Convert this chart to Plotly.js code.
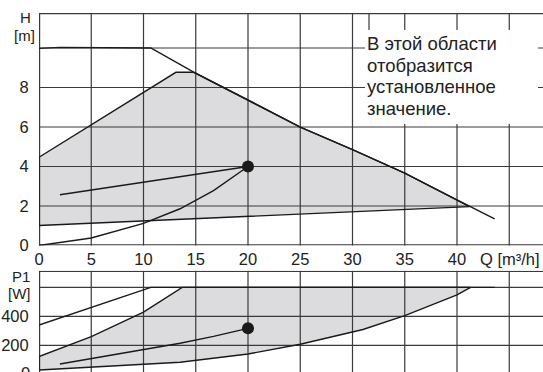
<!DOCTYPE html>
<html>
<head>
<meta charset="utf-8">
<script src="https://cdn.plot.ly/plotly-3.0.1.min.js"></script>
<style>
  body { margin: 0; background: #fff; }
  #chart { width: 543px; height: 372px; }
</style>
</head>
<body>
<div id="chart"></div>
<script>
// head chart, Q [m3/h] vs H [m]
const maxQ = [0, 2, 10.7, 14.8, 20, 25, 30, 35, 40, 43.6];
const maxH = [9.98, 10.03, 10.0, 8.78, 7.37, 5.99, 4.85, 3.66, 2.31, 1.35];

const areaQ = [0, 13.1, 14.8, 20, 25, 30, 35, 41.2, 0, 0];
const areaH = [4.47, 8.77, 8.77, 7.37, 5.99, 4.85, 3.66, 1.97, 1.01, 4.47];

const setQ = [2, 20];
const setH = [2.57, 4];

const sysQ = [0, 5, 10, 13.5, 16.7, 20];
const sysH = [0, 0.38, 1.12, 1.86, 2.78, 4];

const dutyQ = [20];
const dutyH = [4];

// power chart, Q [m3/h] vs P1 [W]
const pmaxQ = [0, 10.7, 43.6];
const pmaxP = [341, 600, 600];

const pareaQ = [0, 5, 10, 13.7, 41.3, 40, 35, 31, 25, 20, 13.5, 10, 0, 0];
const pareaP = [123, 261, 429, 600, 600, 548, 405, 310, 208, 141, 84, 71, 31, 123];

const psetQ = [2, 10, 13.5, 16.7, 20];
const psetP = [72, 172, 215, 262, 318];

const dutyP = [318];

const qTicks = [0, 5, 10, 15, 20, 25, 30, 35, 40, 45];
const qLabels = ['0', '5', '10', '15', '20', '25', '30', '35', '40', ''];
const hTicks = [0, 2, 4, 6, 8];
const hGrid = [0, 2, 4, 6, 8, 10];
const pTicks = [200, 400, 600];
const pLabels = ['200', '400', ''];

const noteLines = ['В этой области', 'отобразится', 'установленное', 'значение.'];

const W = 543, H = 372, ML = 39, MT = 13;
const px = x => (x - ML) / (W - ML);
const py = y => (H - y) / (H - MT);

// pixel scales used for the axis ranges
const qPx = 10.45, hPx = 19.75, pPx = 0.145;
const qMax = (W - ML) / qPx;
const hTop = 232.5 / hPx;
const pRange = [17, 715];

function toPath(xs, ys) {
  return xs.map((x, i) => (i ? 'L' : 'M') + x + ',' + ys[i]).join(' ') + ' Z';
}

const ink = '#1a1a1a';
const gridCol = '#3a3a3a';
const fillGray = '#dcdcde';
const fam = 'Liberation Sans, Arial, sans-serif';
const tickFont = { family: fam, size: 16.5, color: '#222' };
const labFont = { family: fam, size: 15, color: '#222' };

const line = (x, y, xa, ya) => ({
  x: x, y: y, xaxis: xa, yaxis: ya, mode: 'lines', type: 'scatter',
  line: { color: ink, width: 1.4 }, hoverinfo: 'skip', showlegend: false
});

// one small trace per grid line or tick, on the axes
const seg = (x0, y0, x1, y1, xa, ya, out) => ({
  x: [x0, x1], y: [y0, y1], xaxis: xa, yaxis: ya, mode: 'lines', type: 'scatter',
  line: { color: gridCol, width: 1.2 }, cliponaxis: !out,
  hoverinfo: 'skip', showlegend: false
});

const eQ = 0.6 / qPx, eH = 0.6 / hPx, eP = 0.6 / pPx;
const tickQ = -6 / qPx, tickH = -5 / hPx;

const grid = [];
qTicks.forEach(q => {
  const qq = q === 0 ? eQ : q;
  grid.push(seg(qq, 0, qq, hTop, 'x', 'y'));
  grid.push(seg(q, 0, q, tickH, 'x', 'y', true));
  grid.push(seg(qq, pRange[0], qq, pRange[1], 'x2', 'y2'));
});
hGrid.forEach(h => {
  const hh = h === 0 ? eH : h;
  grid.push(seg(0, hh, qMax, hh, 'x', 'y'));
});
hTicks.forEach(h => grid.push(seg(tickQ, h, 0, h, 'x', 'y', true)));
grid.push(seg(0, hTop - eH, qMax, hTop - eH, 'x', 'y'));
grid.push(seg(31.58, (245.5 - 30) / hPx, 31.58, hTop, 'x', 'y'));
pTicks.forEach(p => {
  grid.push(seg(0, p, qMax, p, 'x2', 'y2'));
  grid.push(seg(tickQ, p, 0, p, 'x2', 'y2', true));
});
grid.push(seg(0, pRange[1] - eP, qMax, pRange[1] - eP, 'x2', 'y2'));

const data = grid.concat([
  line(areaQ, areaH, 'x', 'y'),
  line(maxQ, maxH, 'x', 'y'),
  line(setQ, setH, 'x', 'y'),
  line(sysQ, sysH, 'x', 'y'),
  { x: dutyQ, y: dutyH, xaxis: 'x', yaxis: 'y', mode: 'markers', type: 'scatter',
    marker: { size: 12, color: ink }, hoverinfo: 'skip', showlegend: false },
  line(pareaQ, pareaP, 'x2', 'y2'),
  line(pmaxQ, pmaxP, 'x2', 'y2'),
  line(psetQ, psetP, 'x2', 'y2'),
  { x: dutyQ, y: dutyP, xaxis: 'x2', yaxis: 'y2', mode: 'markers', type: 'scatter',
    marker: { size: 12, color: ink }, hoverinfo: 'skip', showlegend: false }
]);

const axisBase = {
  showgrid: false, showline: false, zeroline: false,
  tickcolor: 'rgba(0,0,0,0)', tickfont: tickFont, tickmode: 'array'
};

const layout = {
  width: W, height: H,
  margin: { l: ML, r: 0, t: MT, b: 0 },
  paper_bgcolor: '#fff', plot_bgcolor: 'rgba(0,0,0,0)',
  font: { family: fam, size: 15, color: '#222' },
  showlegend: false,
  xaxis: Object.assign({}, axisBase, {
    domain: [0, 1], anchor: 'y', range: [0, qMax],
    tickvals: qTicks, ticktext: qLabels,
    ticks: 'outside', ticklen: 5, ticklabelstandoff: -6
  }),
  yaxis: Object.assign({}, axisBase, {
    domain: [py(245.5), 1], anchor: 'x', range: [0, hTop],
    tickvals: hTicks, ticks: 'outside', ticklen: 6
  }),
  xaxis2: Object.assign({}, axisBase, {
    domain: [0, 1], anchor: 'y2', range: [0, qMax], side: 'top',
    tickvals: qTicks, showticklabels: false, ticks: ''
  }),
  yaxis2: Object.assign({}, axisBase, {
    domain: [0, py(270.7)], anchor: 'x2', range: pRange,
    tickvals: pTicks, ticktext: pLabels, ticks: 'outside', ticklen: 6
  }),
  shapes: [
    { type: 'path', xref: 'x', yref: 'y', path: toPath(areaQ, areaH),
      fillcolor: fillGray, line: { width: 0 }, layer: 'below' },
    { type: 'path', xref: 'x2', yref: 'y2', path: toPath(pareaQ, pareaP),
      fillcolor: fillGray, line: { width: 0 }, layer: 'below' },
    { type: 'rect', xref: 'paper', yref: 'paper', x0: px(365), x1: px(538), y0: py(124), y1: py(30),
      fillcolor: '#fff', line: { width: 0 } }
  ],
  annotations: [
    { text: 'H', xref: 'paper', yref: 'paper', x: px(25.5), y: py(17.5), xanchor: 'center', yanchor: 'middle',
      showarrow: false, font: labFont },
    { text: '[m]', xref: 'paper', yref: 'paper', x: px(24.5), y: py(35.5), xanchor: 'center', yanchor: 'middle',
      showarrow: false, font: labFont },
    { text: 'P1', xref: 'paper', yref: 'paper', x: px(21), y: py(276.5), xanchor: 'center', yanchor: 'middle',
      showarrow: false, font: labFont },
    { text: '[W]', xref: 'paper', yref: 'paper', x: px(19.5), y: py(293), xanchor: 'center', yanchor: 'middle',
      showarrow: false, font: labFont },
    { text: 'Q [m³/h]', xref: 'paper', yref: 'paper', x: px(542), y: py(258.5), xanchor: 'right', yanchor: 'middle',
      showarrow: false, font: tickFont },
    { text: '0', xref: 'paper', yref: 'paper', x: px(32), y: py(373), xanchor: 'right', yanchor: 'middle',
      showarrow: false, font: tickFont }
  ].concat(noteLines.map((t, i) => ({
    text: t, xref: 'paper', yref: 'paper', x: px(365), y: py(43.5 + i * 21.7),
    xanchor: 'left', yanchor: 'middle', showarrow: false,
    font: { family: fam, size: 18.5, color: '#222' }
  })))
};

Plotly.newPlot('chart', data, layout, { displayModeBar: false });
</script>
</body>
</html>
